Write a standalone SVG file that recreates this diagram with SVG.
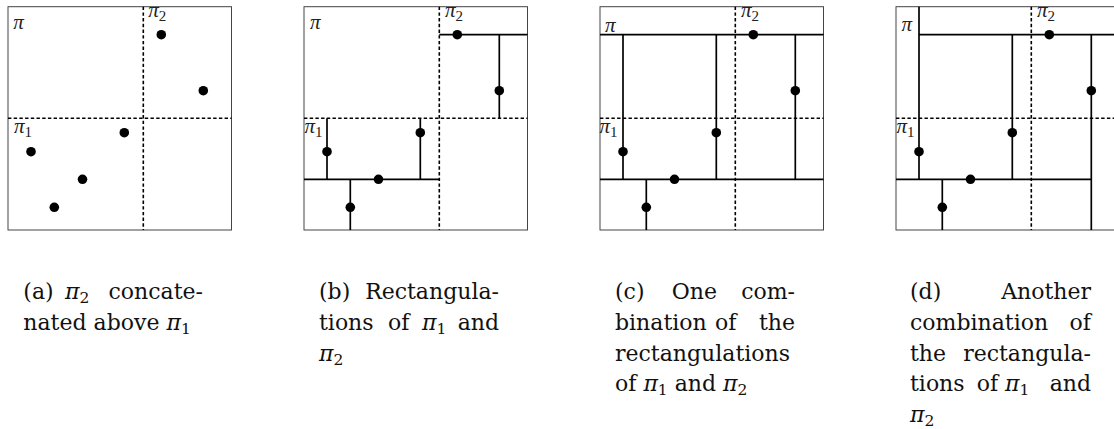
<svg xmlns="http://www.w3.org/2000/svg" width="1114" height="429" viewBox="0 0 1114 429">
<style>
.frame{fill:none;stroke:#444;stroke-width:1}
.dash{stroke:#000;stroke-width:1.6;stroke-dasharray:3.4 2.3;fill:none}
.ln{stroke:#000;stroke-width:1.7;fill:none}
.dot{fill:#000}
.lbl{font-family:'Liberation Serif',serif;font-size:21px;fill:#222}
.cap{font-family:'DejaVu Serif',serif;font-size:22px;fill:#111}
.m{font-style:italic}
.s{font-size:15px;font-style:normal}
.cs{font-size:15.5px;font-style:normal}
</style>
<defs>
<g id="base">
<rect class="frame" x="0" y="6.7" width="223.5" height="223.3"/>
<line class="dash" x1="135.3" y1="6.7" x2="135.3" y2="230"/>
<line class="dash" x1="0" y1="118.3" x2="223.5" y2="118.3"/>
</g>
<g id="dots">
<circle class="dot" cx="23" cy="151.7" r="4.8"/>
<circle class="dot" cx="46.3" cy="207.3" r="4.8"/>
<circle class="dot" cx="74.5" cy="179.3" r="4.8"/>
<circle class="dot" cx="116.3" cy="132.7" r="4.8"/>
<circle class="dot" cx="153.3" cy="34.7" r="4.8"/>
<circle class="dot" cx="195.3" cy="90.7" r="4.8"/>
</g>
</defs>

<g id="panel-a" transform="translate(8,0)">
<use href="#base"/>
<use href="#dots"/>
<text class="lbl m" x="5.3" y="29.3">π</text>
<text class="lbl" x="140.3" y="16.8"><tspan class="m">π</tspan><tspan class="s" dy="4">2</tspan></text>
<text class="lbl" x="6" y="133.3"><tspan class="m">π</tspan><tspan class="s" dy="4">1</tspan></text>
</g>

<g id="panel-b" transform="translate(304,0)">
<use href="#base"/>
<g id="connectors-b">
<line class="ln" x1="135.3" y1="34.7" x2="223.5" y2="34.7"/>
<line class="ln" x1="195.3" y1="34.7" x2="195.3" y2="118.3"/>
<line class="ln" x1="0" y1="179.3" x2="135.3" y2="179.3"/>
<line class="ln" x1="23" y1="118.3" x2="23" y2="179.3"/>
<line class="ln" x1="116.3" y1="118.3" x2="116.3" y2="179.3"/>
<line class="ln" x1="46.3" y1="179.3" x2="46.3" y2="230"/>
</g>
<use href="#dots"/>
<text class="lbl m" x="6" y="29.3">π</text>
<text class="lbl" x="141" y="16.8"><tspan class="m">π</tspan><tspan class="s" dy="4">2</tspan></text>
<text class="lbl" x="0.5" y="133.3"><tspan class="m">π</tspan><tspan class="s" dy="4">1</tspan></text>
</g>

<g id="panel-c" transform="translate(600,0)">
<use href="#base"/>
<g id="connectors-c">
<line class="ln" x1="0" y1="34.7" x2="223.5" y2="34.7"/>
<line class="ln" x1="23" y1="34.7" x2="23" y2="179.3"/>
<line class="ln" x1="116.3" y1="34.7" x2="116.3" y2="179.3"/>
<line class="ln" x1="195.3" y1="34.7" x2="195.3" y2="179.3"/>
<line class="ln" x1="0" y1="179.3" x2="223.5" y2="179.3"/>
<line class="ln" x1="46.3" y1="179.3" x2="46.3" y2="230"/>
</g>
<use href="#dots"/>
<text class="lbl m" x="5" y="32.3">π</text>
<text class="lbl" x="141" y="16.8"><tspan class="m">π</tspan><tspan class="s" dy="4">2</tspan></text>
<text class="lbl" x="-0.5" y="133.3"><tspan class="m">π</tspan><tspan class="s" dy="4">1</tspan></text>
</g>

<g id="panel-d" transform="translate(896,0)">
<use href="#base"/>
<g id="connectors-d">
<line class="ln" x1="23" y1="6.7" x2="23" y2="179.3"/>
<line class="ln" x1="23" y1="34.7" x2="223.5" y2="34.7"/>
<line class="ln" x1="116.3" y1="34.7" x2="116.3" y2="179.3"/>
<line class="ln" x1="195.3" y1="34.7" x2="195.3" y2="230"/>
<line class="ln" x1="0" y1="179.3" x2="195.3" y2="179.3"/>
<line class="ln" x1="46.3" y1="179.3" x2="46.3" y2="230"/>
</g>
<use href="#dots"/>
<text class="lbl m" x="5.5" y="31">π</text>
<text class="lbl" x="141" y="16.8"><tspan class="m">π</tspan><tspan class="s" dy="4">2</tspan></text>
<text class="lbl" x="0.5" y="133.3"><tspan class="m">π</tspan><tspan class="s" dy="4">1</tspan></text>
</g>

<g id="caption-a">
<text class="cap" x="23.3" y="299">(a)</text>
<text class="cap" x="65" y="299"><tspan class="m">π</tspan><tspan class="cs" dy="4">2</tspan></text>
<text class="cap" x="203" y="299" text-anchor="end">concate-</text>
<text class="cap" x="23.3" y="330">nated above <tspan class="m">π</tspan><tspan class="cs" dy="4">1</tspan></text>
</g>

<g id="caption-b">
<text class="cap" x="319" y="299">(b)</text>
<text class="cap" x="499" y="299" text-anchor="end">Rectangula-</text>
<text class="cap" x="319" y="330">tions</text>
<text class="cap" x="388" y="330">of</text>
<text class="cap" x="422" y="330"><tspan class="m">π</tspan><tspan class="cs" dy="4">1</tspan></text>
<text class="cap" x="499" y="330" text-anchor="end">and</text>
<text class="cap" x="319" y="360.7"><tspan class="m">π</tspan><tspan class="cs" dy="4">2</tspan></text>
</g>

<g id="caption-c">
<text class="cap" x="615" y="299">(c)</text>
<text class="cap" x="671.7" y="299">One</text>
<text class="cap" x="795" y="299" text-anchor="end">com-</text>
<text class="cap" x="615" y="330">bination</text>
<text class="cap" x="715" y="330">of</text>
<text class="cap" x="795" y="330" text-anchor="end">the</text>
<text class="cap" x="615" y="360.7">rectangulations</text>
<text class="cap" x="615" y="391.3">of <tspan class="m">π</tspan><tspan class="cs" dy="4">1</tspan><tspan dy="-4"> and </tspan><tspan class="m">π</tspan><tspan class="cs" dy="4">2</tspan></text>
</g>

<g id="caption-d">
<text class="cap" x="910" y="299">(d)</text>
<text class="cap" x="1091" y="299" text-anchor="end">Another</text>
<text class="cap" x="910" y="330">combination</text>
<text class="cap" x="1091" y="330" text-anchor="end">of</text>
<text class="cap" x="910" y="360.7">the</text>
<text class="cap" x="1091" y="360.7" text-anchor="end">rectangula-</text>
<text class="cap" x="910" y="391.3">tions</text>
<text class="cap" x="976.7" y="391.3">of</text>
<text class="cap" x="1005" y="391.3"><tspan class="m">π</tspan><tspan class="cs" dy="4">1</tspan></text>
<text class="cap" x="1091" y="391.3" text-anchor="end">and</text>
<text class="cap" x="910" y="422"><tspan class="m">π</tspan><tspan class="cs" dy="4">2</tspan></text>
</g>
</svg>
